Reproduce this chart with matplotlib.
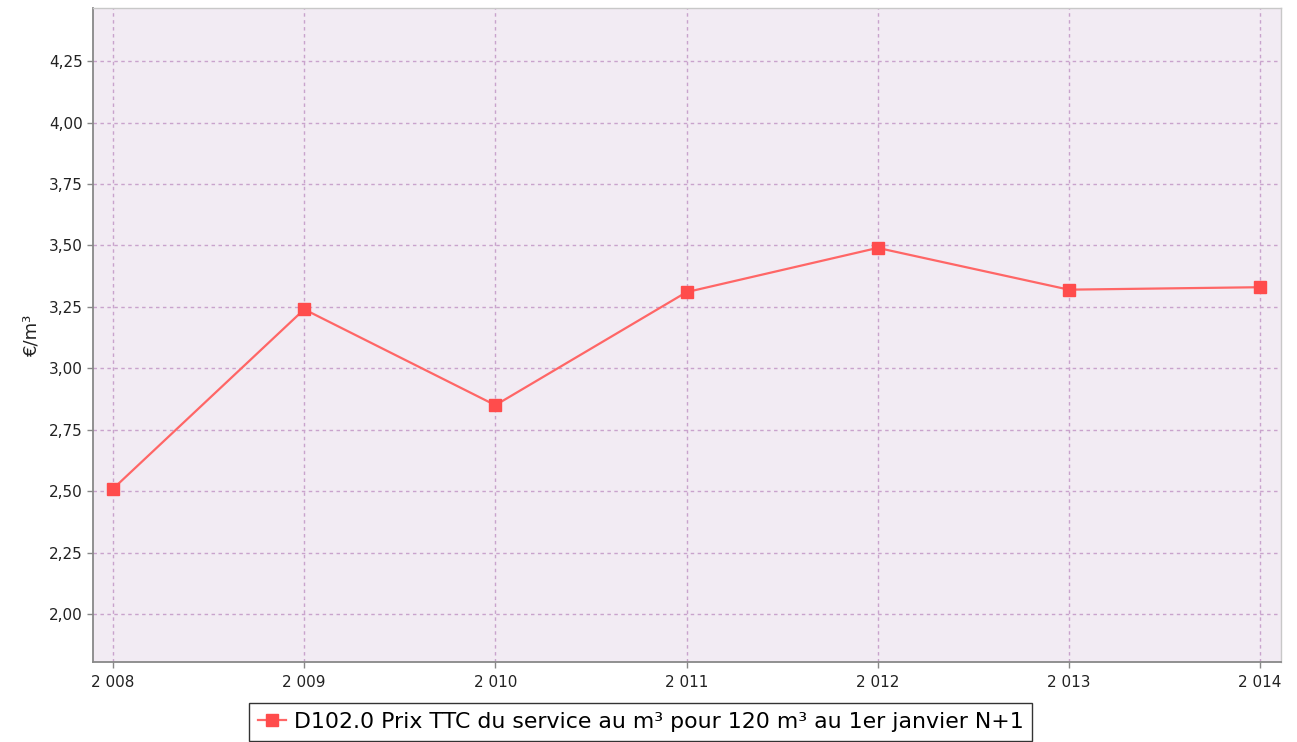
import matplotlib
matplotlib.use("Agg")
import matplotlib.pyplot as plt
from matplotlib.ticker import FuncFormatter, FixedLocator

years = [2008, 2009, 2010, 2011, 2012, 2013, 2014]
prices = [2.51, 3.24, 2.85, 3.31, 3.49, 3.32, 3.33]
yticks = [2.00, 2.25, 2.50, 2.75, 3.00, 3.25, 3.50, 3.75, 4.00, 4.25]
series_label = "D102.0 Prix TTC du service au m³ pour 120 m³ au 1er janvier N+1"
ylabel = "€/m³"

fig = plt.figure(figsize=(12.97, 7.42), dpi=100)
ax = fig.add_axes([0.0717, 0.1078, 0.9877 - 0.0717, 0.9892 - 0.1078])
ax.set_facecolor("#f2ebf3")

ax.plot(years, prices, color="#ff6666", lw=1.6, marker="s", markersize=9,
        markerfacecolor="#ff4c4c", markeredgecolor="#ff4c4c", label=series_label, zorder=3)

ax.set_xlim(2007.895, 2014.11)
ax.set_ylim(1.805, 4.466)
ax.xaxis.set_major_locator(FixedLocator(years))
ax.yaxis.set_major_locator(FixedLocator(yticks))
ax.xaxis.set_major_formatter(FuncFormatter(lambda v, p: f"{int(v):,}".replace(",", " ")))
ax.yaxis.set_major_formatter(FuncFormatter(lambda v, p: f"{v:.2f}".replace(".", ",")))

ax.grid(True, color="#c9a3cc", linestyle=(0, (2.5, 2.5)), linewidth=1.0)
ax.set_axisbelow(True)

for s in ["left", "bottom"]:
    ax.spines[s].set_color("#888888")
    ax.spines[s].set_linewidth(1.3)
for s in ["top", "right"]:
    ax.spines[s].set_color("#c8c8c8")
    ax.spines[s].set_linewidth(1.0)

ax.tick_params(axis="both", direction="out", length=4, width=1, color="#888888",
               labelsize=11, labelcolor="#222222")
ax.tick_params(axis="x", pad=5)
ax.set_ylabel(ylabel, fontsize=13, color="#222222", labelpad=6)

leg = fig.legend(loc="lower center", bbox_to_anchor=(0.494, 0.002), fontsize=15.8,
                 frameon=True, fancybox=False, edgecolor="#000000",
                 handlelength=1.3, handletextpad=0.35, borderpad=0.4, borderaxespad=0)
leg.get_frame().set_linewidth(1.0)

fig.savefig("out.png", dpi=100, facecolor="white")
